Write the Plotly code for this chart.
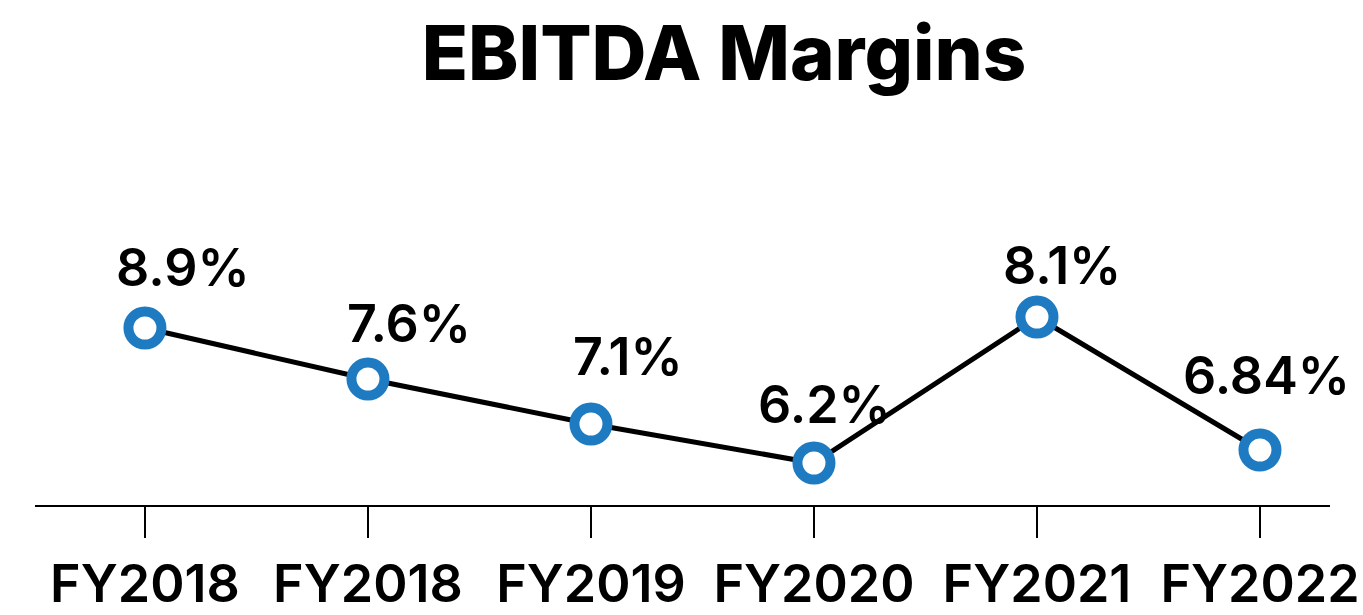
import plotly.graph_objects as go

# ---- data ----
categories = ["FY2018", "FY2018", "FY2019", "FY2020", "FY2021", "FY2022"]
margin_labels = ["8.9%", "7.6%", "7.1%", "6.2%", "8.1%", "6.84%"]
# vertical levels of the plotted points
plot_levels = [8.9, 7.88, 6.98, 6.2, 9.12, 6.46]

# ---- styling ----
FONT = "Inter"
BLUE = "#1f7bc1"
label_dx = [38, 41, 37, 11, 25, 7]
label_dy = [27, 22, 34, 25, 18, 41]
W, H = 1363, 615

xs = list(range(len(categories)))

fig = go.Figure()
fig.add_trace(go.Scatter(
    x=xs, y=plot_levels, mode="lines",
    line=dict(color="black", width=5),
    hoverinfo="skip", showlegend=False,
))
fig.add_trace(go.Scatter(
    x=xs, y=plot_levels, mode="markers",
    marker=dict(size=33, color="white", line=dict(color=BLUE, width=10)),
    showlegend=False,
))

for i, (x, y, t) in enumerate(zip(xs, plot_levels, margin_labels)):
    fig.add_annotation(
        x=x, y=y, text=t, showarrow=False,
        xanchor="center", yanchor="bottom",
        xshift=label_dx[i], yshift=label_dy[i],
        font=dict(family=FONT, size=52, color="black", weight=600),
    )

fig.update_layout(
    width=W, height=H,
    paper_bgcolor="white", plot_bgcolor="white",
    margin=dict(l=35, r=33, t=150, b=110, autoexpand=False),
    title=dict(
        text="EBITDA Margins",
        x=724 / W, xanchor="center", xref="container",
        y=1 - 53 / H, yanchor="middle", yref="container",
        font=dict(family=FONT, size=76, color="black", weight=800),
    ),
    xaxis=dict(
        range=[-0.493, 5.314],
        tickmode="array", tickvals=xs, ticktext=categories,
        showline=True, linecolor="black", linewidth=2,
        ticks="outside", ticklen=31, tickwidth=2, tickcolor="black",
        ticklabelstandoff=2, automargin=False, ticklabeloverflow="allow",
        tickfont=dict(family=FONT, size=52, color="black", weight=600),
        showgrid=False, zeroline=False, fixedrange=True,
    ),
    yaxis=dict(
        range=[5.36, 12.46], visible=False, showgrid=False,
        zeroline=False, fixedrange=True, automargin=False,
    ),
)

fig.write_html(
    "out.html",
    config={"displayModeBar": False},
    post_script="document.body.style.margin='0';document.body.style.overflow='hidden';",
)
